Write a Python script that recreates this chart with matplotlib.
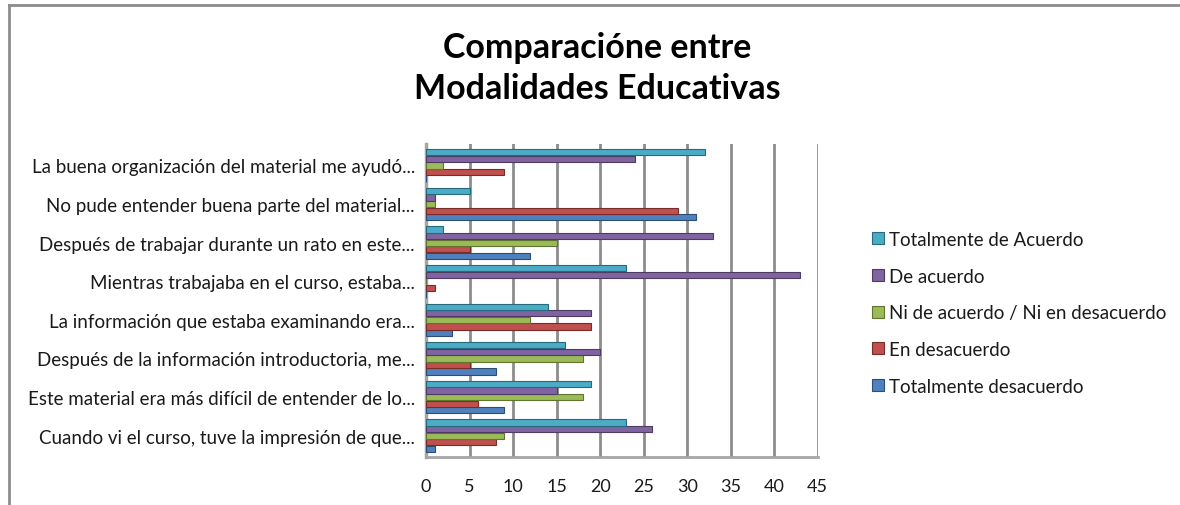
import matplotlib

matplotlib.use("Agg")
import matplotlib.pyplot as plt
import numpy as np

plt.rcParams["font.family"] = ["Lato", "DejaVu Sans"]

categories = [
    "Cuando vi el curso, tuve la impresión de que...",
    "Este material era más difícil de entender de lo...",
    "Después de la información introductoria, me...",
    "La información que estaba examinando era...",
    "Mientras trabajaba en el curso, estaba...",
    "Después de trabajar durante un rato en este...",
    "No pude entender buena parte del material...",
    "La buena organización del material me ayudó...",
]

series_names = [
    "Totalmente desacuerdo",
    "En desacuerdo",
    "Ni de acuerdo / Ni en desacuerdo",
    "De acuerdo",
    "Totalmente de Acuerdo",
]

totalmente_desacuerdo = [1, 9, 8, 3, 0, 12, 31, 0]
en_desacuerdo = [8, 6, 5, 19, 1, 5, 29, 9]
ni_ni = [9, 18, 18, 12, 0, 15, 1, 2]
de_acuerdo = [26, 15, 20, 19, 43, 33, 1, 24]
totalmente_acuerdo = [23, 19, 16, 14, 23, 2, 5, 32]

colors = ["#4F81BD", "#C0504D", "#9BBB59", "#8064A2", "#4BACC6"]
edges = ["#2C4D75", "#772C2A", "#5F7530", "#4D3B62", "#276A7C"]

series = [totalmente_desacuerdo, en_desacuerdo, ni_ni, de_acuerdo, totalmente_acuerdo]

fig = plt.figure(figsize=(11.8, 5.06), dpi=100)
# chart frame
fig.add_artist(plt.Line2D([0.0076, 0.0076], [0, 0.989], color="#8c8c8c", lw=2))
fig.add_artist(plt.Line2D([0.0076, 1.0], [0.989, 0.989], color="#8c8c8c", lw=2))

fig.text(0.506, 0.905, "Comparacióne entre", ha="center", va="center",
         fontsize=24.5, fontweight="bold")
fig.text(0.506, 0.825, "Modalidades Educativas", ha="center", va="center",
         fontsize=24.5, fontweight="bold")

ax = fig.add_axes([0.361, 0.095, 0.332, 0.618])
y = np.arange(len(categories))
h = 0.17
for i, (vals, c, ec, name) in enumerate(zip(series, colors, edges, series_names)):
    ax.barh(y + (i - 2) * h, vals, height=h * 0.95, color=c, edgecolor=ec,
            linewidth=0.8, label=name, zorder=3)

ax.set_xlim(0, 45)
ax.set_ylim(-0.55, 7.55)
ax.set_xticks(np.arange(0, 46, 5))
ax.set_yticks(y)
ax.set_yticklabels(categories, fontsize=13.5, color="#1a1a1a")
ax.tick_params(axis="x", labelsize=13, length=0, pad=15, colors="#1a1a1a")
ax.tick_params(axis="y", length=0, pad=8)
ax.grid(axis="x", color="#8c8c8c", lw=2, zorder=0)
for side in ["top", "right"]:
    ax.spines[side].set_visible(False)
ax.spines["left"].set_color("#a6a6a6")
ax.spines["left"].set_linewidth(2.5)
ax.spines["bottom"].set_color("#a6a6a6")
ax.spines["bottom"].set_linewidth(2)

handles, labels = ax.get_legend_handles_labels()
fig.legend(handles[::-1], labels[::-1], loc="center left",
           bbox_to_anchor=(0.725, 0.38), frameon=False, fontsize=13.5,
           handlelength=0.6, handleheight=0.6, handletextpad=0.3,
           labelspacing=1.05, labelcolor="#1a1a1a")

fig.savefig("out.png", dpi=100)
